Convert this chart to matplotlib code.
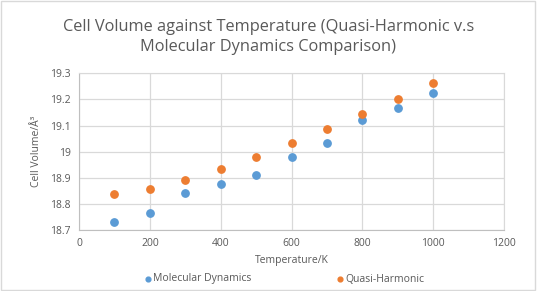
import matplotlib.pyplot as plt

temps = [100, 200, 300, 400, 500, 600, 700, 800, 900, 1000]
md_volume = [18.732, 18.764, 18.840, 18.875, 18.909, 18.978, 19.032, 19.120, 19.166, 19.223]
qh_volume = [18.837, 18.856, 18.890, 18.932, 18.978, 19.032, 19.086, 19.143, 19.200, 19.262]

x_ticks = [0, 200, 400, 600, 800, 1000, 1200]
y_ticks = [18.7, 18.8, 18.9, 19.0, 19.1, 19.2, 19.3]
y_labels = ["18.7", "18.8", "18.9", "19", "19.1", "19.2", "19.3"]

plt.rcParams["font.family"] = ["Open Sans", "DejaVu Sans"]
text_col = "#595959"
grid_col = "#d9d9d9"

fig = plt.figure(figsize=(5.37, 2.91), dpi=100)
ax = fig.add_axes([79 / 537, 1 - 230 / 291, (504 - 79) / 537, (230 - 73.3) / 291])

md = ax.scatter(temps, md_volume, s=28, color="#5b9bd5", zorder=3, label="Molecular Dynamics")
qh = ax.scatter(temps, qh_volume, s=28, color="#ed7d31", zorder=3, label="Quasi-Harmonic")

ax.set_xlim(0, 1200)
ax.set_ylim(18.7, 19.3)
ax.set_xticks(x_ticks)
ax.set_xticklabels([str(t) for t in x_ticks])
ax.set_yticks(y_ticks)
ax.set_yticklabels(y_labels)
ax.grid(True, color=grid_col, linewidth=0.9)
ax.set_axisbelow(True)
ax.tick_params(length=0, labelsize=7.5, colors=text_col, pad=6)
for side in ["top", "right"]:
    ax.spines[side].set_color(grid_col)
for side in ["left", "bottom"]:
    ax.spines[side].set_color("#bfbfbf")

ax.set_xlabel("Temperature/K", fontsize=7.5, color=text_col, labelpad=4)
ax.set_ylabel("Cell Volume/Å³", fontsize=7.5, color=text_col, labelpad=6)

fig.text(0.5, 0.935, "Cell Volume against Temperature (Quasi-Harmonic v.s\nMolecular Dynamics Comparison)",
         ha="center", va="top", fontsize=11.8, color=text_col, linespacing=1.35)

# two separate legend entries, placed like Excel does
for handle, xpos in [(md, 144), (qh, 336)]:
    leg = fig.legend([handle], [handle.get_label()], loc="center left",
                     bbox_to_anchor=(xpos / 537, 1 - 279 / 291), frameon=False,
                     fontsize=7.5, labelcolor=text_col, handlelength=0.7,
                     handletextpad=0.2, borderpad=0, borderaxespad=0,
                     markerscale=0.65, scatterpoints=1)

fig.patches.append(plt.Rectangle((0.001, 0.003), 0.996, 0.994, transform=fig.transFigure,
                                 fill=False, edgecolor="#d9d9d9", linewidth=1))

fig.savefig("out.png", dpi=100)
